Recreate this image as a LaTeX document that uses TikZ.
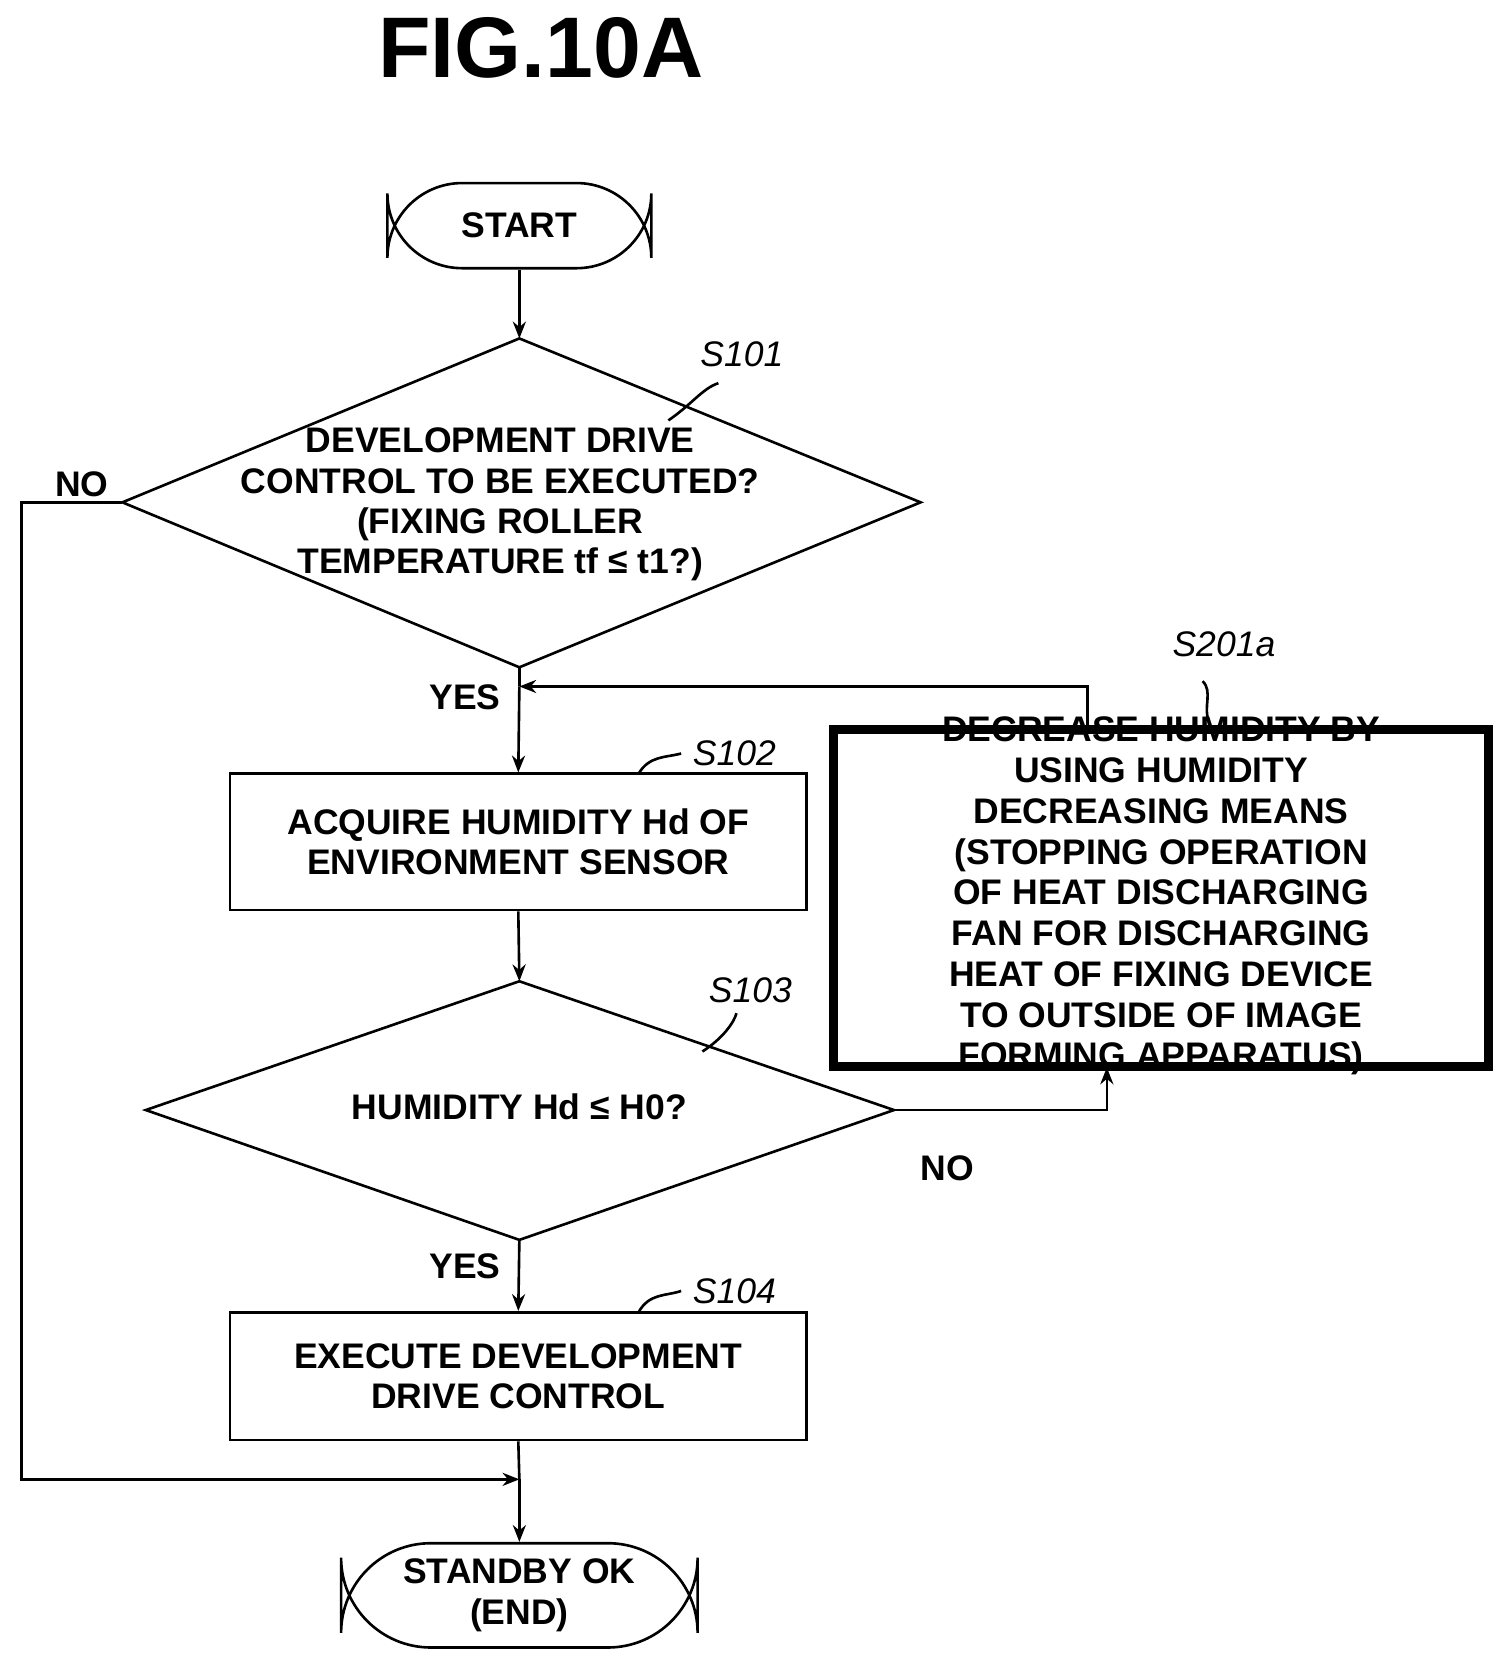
\documentclass[tikz,border=0pt]{standalone}
\usepackage{fontspec}
\setmainfont{Liberation Sans}
\usetikzlibrary{arrows.meta}
\begin{document}
\begin{tikzpicture}[x=0.02cm,y=-0.02cm,
  txt/.style={font=\fontsize{19}{21.5}\selectfont\bfseries, align=center, inner sep=0pt},
  lab/.style={font=\fontsize{19}{22}\selectfont\itshape, inner sep=0pt},
  ln/.style={line width=1.4pt},
  arr/.style={ln,-{Stealth[length=9pt,width=7pt]}},
  box/.style={draw,ln,rectangle,inner sep=0pt},
  term/.style={draw,ln,rounded corners=40pt,inner sep=0pt}]
\useasboundingbox (0,0) rectangle (1410,1556);
\node[font=\fontsize{46}{50}\selectfont\bfseries] (title) at (508,45) {FIG.10A};
% start
\node[term,minimum width=248*0.02cm,minimum height=80*0.02cm] (start) at (488,212) {};
\node[txt] at (start) {START};
% D1
\coordinate (d1t) at (488,318); \coordinate (d1b) at (488,627);
\coordinate (d1l) at (115,472); \coordinate (d1r) at (865,472);
\draw[ln] (d1t) -- (d1r) -- (d1b) -- (d1l) -- cycle;
\node[txt] (d1) at (470,474) {DEVELOPMENT DRIVE\\CONTROL TO BE EXECUTED?\\(FIXING ROLLER\\TEMPERATURE tf ≤ t1?)};
\node[lab] (l101) at (697,333) {S101};
\draw[ln] (628,395) .. controls (650,380) and (660,365) .. (675,360);
% S102
\node[box,minimum width=542*0.02cm,minimum height=128*0.02cm] (s102) at (487,791) {};
\node[txt] at (s102) {ACQUIRE HUMIDITY Hd OF\\ENVIRONMENT SENSOR};
\node[lab] (l102) at (690,708) {S102};
\draw[ln] (600,727) .. controls (610,710) and (625,712) .. (640,708);
% D2
\coordinate (d2t) at (488,922); \coordinate (d2b) at (488,1165);
\coordinate (d2l) at (137,1043); \coordinate (d2r) at (840,1043);
\draw[ln] (d2t) -- (d2r) -- (d2b) -- (d2l) -- cycle;
\node[txt] (d2) at (488,1040) {HUMIDITY Hd ≤ H0?};
\node[lab] (l103) at (705,930) {S103};
\draw[ln] (660,988) .. controls (680,975) and (690,960) .. (692,952);
% S201a
\node[box,line width=4pt,minimum width=617*0.02cm,minimum height=318*0.02cm] (s201) at (1091,844) {};
\draw[ln] ([shift={(7,7)}]s201.north west) rectangle ([shift={(-7,-7)}]s201.south east);
\node[txt,font=\fontsize{19}{21.8}\selectfont\bfseries] at (1091,842) {DECREASE HUMIDITY BY\\USING HUMIDITY\\DECREASING MEANS\\(STOPPING OPERATION\\OF HEAT DISCHARGING\\FAN FOR DISCHARGING\\HEAT OF FIXING DEVICE\\TO OUTSIDE OF IMAGE\\FORMING APPARATUS)};
\node[lab] (l201) at (1150,605) {S201a};
\draw[ln] (1130,640) .. controls (1140,650) and (1130,665) .. (1136,678);
% S104
\node[box,minimum width=542*0.02cm,minimum height=120*0.02cm] (s104) at (487,1293) {};
\node[txt] at (s104) {EXECUTE DEVELOPMENT\\DRIVE CONTROL};
\node[lab] (l104) at (690,1213) {S104};
\draw[ln] (600,1233) .. controls (610,1215) and (625,1218) .. (640,1213);
% end
\node[term,minimum width=335*0.02cm,minimum height=98*0.02cm,rounded corners=48pt] (end) at (488,1499) {};
\node[txt] at (end) {STANDBY OK\\(END)};
% labels
\node[txt] (no1) at (77,455) {NO};
\node[txt] (yes1) at (437,655) {YES};
\node[txt] (no2) at (890,1098) {NO};
\node[txt] (yes2) at (437,1190) {YES};
% connectors
\coordinate (m1) at (488,645);
\coordinate (m2) at (488,1390);
\draw[arr] (start.south) -- (d1t);
\draw[ln] (d1b) -- (m1);
\draw[arr] (m1) -- (s102.north);
\draw[arr] (s102.south) -- (d2t);
\draw[arr] (d2b) -- (s104.north);
\draw[ln] (s104.south) -- (m2);
\draw[arr] (m2) -- (end.north);
\draw[ln] (d1l) -- (20,472) -- (20,1390) -- (470,1390);
\draw[arr] (400,1390) -- (m2);
\draw[arr] (d2r) -- (1040,1043) -- (1040,1003);
\draw[arr] (1022,685) -- (1022,645) -- (m1);
\end{tikzpicture}
\end{document}
